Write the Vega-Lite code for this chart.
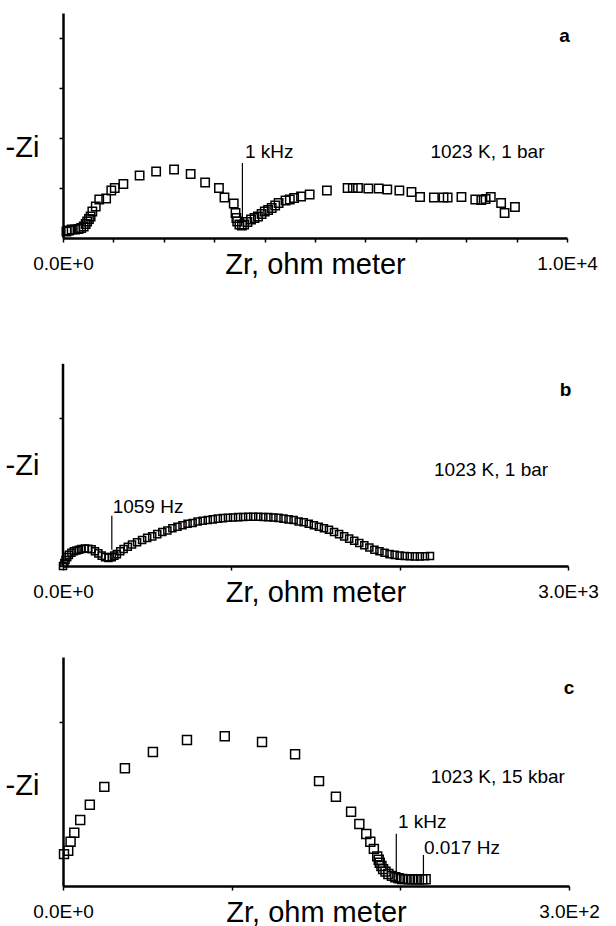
{
  "$schema": "https://vega.github.io/schema/vega-lite/v6.json",
  "padding": {"left": 5, "top": 13, "right": 0, "bottom": 0},
  "background": "white",
  "config": {
    "font": "Liberation Sans",
    "view": {"stroke": null},
    "axis": {
      "grid": false, "domainColor": "black", "domainWidth": 2.5, "tickColor": "black", "tickWidth": 1.5,
      "tickSize": 4, "labelColor": "black", "titleColor": "black", "labelFont": "Liberation Sans",
      "titleFont": "Liberation Sans", "titleFontWeight": "normal", "labelFontSize": 19, "titleFontSize": 29
    },
    "axisX": {"labelPadding": 12, "labelFlush": false, "labelOverlap": false, "titleY": 26, "titleBaseline": "middle"},
    "axisY": {"labels": false, "titleAngle": 0, "titleX": -41, "titleAlign": "center", "titleBaseline": "middle"},
    "point": {"shape": "square", "filled": false, "color": "black", "strokeWidth": 1.5, "opacity": 1},
    "text": {"fontSize": 19, "align": "left", "baseline": "middle", "color": "black"},
    "rule": {"color": "black", "strokeWidth": 1.2}
  },
  "bounds": "flush",
  "spacing": 91,
  "vconcat": [
    {
      "width": 504, "height": 225,
      "layer": [
        {
          "data": {"values": [
            {"x": 68, "y": 0.13}, {"x": 120, "y": 0.15}, {"x": 171, "y": 0.17}, {"x": 240, "y": 0.17}, {"x": 308, "y": 0.18},
            {"x": 360, "y": 0.2}, {"x": 411, "y": 0.23}, {"x": 450, "y": 0.28}, {"x": 479, "y": 0.33}, {"x": 515, "y": 0.38},
            {"x": 548, "y": 0.43}, {"x": 582, "y": 0.53}, {"x": 650, "y": 0.63}, {"x": 719, "y": 0.77}, {"x": 856, "y": 0.79},
            {"x": 958, "y": 0.95}, {"x": 1027, "y": 1.0}, {"x": 1198, "y": 1.08}, {"x": 1520, "y": 1.25}, {"x": 1848, "y": 1.33},
            {"x": 2204, "y": 1.37}, {"x": 2533, "y": 1.28}, {"x": 2820, "y": 1.11}, {"x": 3094, "y": 1.0}, {"x": 3204, "y": 0.81},
            {"x": 3388, "y": 0.69}, {"x": 3423, "y": 0.5}, {"x": 3440, "y": 0.4}, {"x": 3457, "y": 0.33}, {"x": 3500, "y": 0.27},
            {"x": 3550, "y": 0.25}, {"x": 3594, "y": 0.27}, {"x": 3660, "y": 0.32}, {"x": 3731, "y": 0.37}, {"x": 3800, "y": 0.4},
            {"x": 3868, "y": 0.43}, {"x": 3940, "y": 0.48}, {"x": 4004, "y": 0.53}, {"x": 4070, "y": 0.56}, {"x": 4141, "y": 0.6},
            {"x": 4210, "y": 0.65}, {"x": 4278, "y": 0.7}, {"x": 4415, "y": 0.75}, {"x": 4500, "y": 0.77}, {"x": 4586, "y": 0.8},
            {"x": 4723, "y": 0.83}, {"x": 4894, "y": 0.87}, {"x": 5236, "y": 0.95}, {"x": 5647, "y": 1.0}, {"x": 5750, "y": 1.0},
            {"x": 5853, "y": 1.0}, {"x": 6058, "y": 0.99}, {"x": 6263, "y": 0.99}, {"x": 6434, "y": 0.97}, {"x": 6674, "y": 0.95},
            {"x": 6914, "y": 0.92}, {"x": 7085, "y": 0.82}, {"x": 7359, "y": 0.81}, {"x": 7550, "y": 0.81}, {"x": 7632, "y": 0.81},
            {"x": 7906, "y": 0.82}, {"x": 8180, "y": 0.77}, {"x": 8300, "y": 0.76}, {"x": 8385, "y": 0.78}, {"x": 8488, "y": 0.82},
            {"x": 8693, "y": 0.7}, {"x": 8762, "y": 0.5}, {"x": 8967, "y": 0.62}
          ]},
          "mark": {"type": "point", "size": 70},
          "encoding": {
            "x": {"field": "x", "type": "quantitative", "scale": {"domain": [0, 10000]},
              "axis": {"title": "Zr, ohm meter", "values": [0, 1000, 2000, 3000, 4000, 5000, 6000, 7000, 8000, 9000, 10000],
                "labelExpr": "datum.value == 0 ? '0.0E+0' : datum.value == 10000 ? '1.0E+4' : ''"}},
            "y": {"field": "y", "type": "quantitative", "scale": {"domain": [0, 4.5]},
              "axis": {"title": "-Zi", "values": [1, 2, 3, 4], "titleY": 134}}
          }
        },
        {
          "data": {"values": [{"x": 3560, "y": 0.3, "y2": 1.5}]},
          "mark": "rule",
          "encoding": {"x": {"field": "x", "type": "quantitative"}, "y": {"field": "y", "type": "quantitative"}, "y2": {"field": "y2"}}
        },
        {
          "data": {"values": [{"x": 3610, "y": 1.73, "t": "1 kHz"}, {"x": 7290, "y": 1.73, "t": "1023 K,  1 bar"}]},
          "mark": "text",
          "encoding": {"x": {"field": "x", "type": "quantitative"}, "y": {"field": "y", "type": "quantitative"}, "text": {"field": "t"}}
        },
        {
          "data": {"values": [{"x": 9950, "y": 4.05, "t": "a"}]},
          "mark": {"type": "text", "align": "center", "fontWeight": "bold"},
          "encoding": {"x": {"field": "x", "type": "quantitative"}, "y": {"field": "y", "type": "quantitative"}, "text": {"field": "t"}}
        }
      ]
    },
    {
      "width": 505, "height": 237,
      "layer": [
        {
          "data": {"values": [
            {"x": 0, "y": 0}, {"x": 8, "y": 0.02}, {"x": 15, "y": 0.04}, {"x": 25, "y": 0.06}, {"x": 35, "y": 0.075}, {"x": 50, "y": 0.09},
            {"x": 65, "y": 0.1}, {"x": 80, "y": 0.105}, {"x": 95, "y": 0.11}, {"x": 110, "y": 0.115}, {"x": 130, "y": 0.118}, {"x": 150, "y": 0.117},
            {"x": 170, "y": 0.113}, {"x": 190, "y": 0.1}, {"x": 210, "y": 0.085}, {"x": 230, "y": 0.07}, {"x": 250, "y": 0.06}, {"x": 270, "y": 0.055},
            {"x": 290, "y": 0.06}, {"x": 305, "y": 0.07}, {"x": 320, "y": 0.08}, {"x": 340, "y": 0.1}, {"x": 360, "y": 0.115}, {"x": 385, "y": 0.13},
            {"x": 410, "y": 0.145}, {"x": 440, "y": 0.16}, {"x": 470, "y": 0.175}, {"x": 500, "y": 0.19}, {"x": 530, "y": 0.2}, {"x": 560, "y": 0.215},
            {"x": 590, "y": 0.23}, {"x": 620, "y": 0.24}, {"x": 650, "y": 0.255}, {"x": 680, "y": 0.265}, {"x": 710, "y": 0.275}, {"x": 740, "y": 0.285},
            {"x": 770, "y": 0.29}, {"x": 800, "y": 0.3}, {"x": 830, "y": 0.305}, {"x": 860, "y": 0.31}, {"x": 890, "y": 0.315}, {"x": 920, "y": 0.32},
            {"x": 950, "y": 0.323}, {"x": 980, "y": 0.326}, {"x": 1010, "y": 0.328}, {"x": 1040, "y": 0.33}, {"x": 1070, "y": 0.331}, {"x": 1100, "y": 0.332},
            {"x": 1130, "y": 0.332}, {"x": 1160, "y": 0.332}, {"x": 1190, "y": 0.331}, {"x": 1220, "y": 0.33}, {"x": 1250, "y": 0.328}, {"x": 1280, "y": 0.325},
            {"x": 1310, "y": 0.32}, {"x": 1340, "y": 0.315}, {"x": 1370, "y": 0.31}, {"x": 1400, "y": 0.3}, {"x": 1430, "y": 0.295}, {"x": 1460, "y": 0.285},
            {"x": 1490, "y": 0.275}, {"x": 1520, "y": 0.265}, {"x": 1550, "y": 0.255}, {"x": 1580, "y": 0.245}, {"x": 1610, "y": 0.23}, {"x": 1640, "y": 0.215},
            {"x": 1670, "y": 0.2}, {"x": 1700, "y": 0.185}, {"x": 1730, "y": 0.17}, {"x": 1760, "y": 0.155}, {"x": 1790, "y": 0.14}, {"x": 1820, "y": 0.125},
            {"x": 1850, "y": 0.11}, {"x": 1880, "y": 0.1}, {"x": 1910, "y": 0.09}, {"x": 1940, "y": 0.08}, {"x": 1970, "y": 0.075}, {"x": 2000, "y": 0.07},
            {"x": 2030, "y": 0.068}, {"x": 2060, "y": 0.066}, {"x": 2090, "y": 0.065}, {"x": 2120, "y": 0.065}, {"x": 2150, "y": 0.066}, {"x": 2180, "y": 0.067}
          ]},
          "mark": {"type": "point", "size": 50},
          "encoding": {
            "x": {"field": "x", "type": "quantitative", "scale": {"domain": [0, 3000]},
              "axis": {"title": "Zr, ohm meter", "values": [0, 1000, 2000, 3000],
                "labelExpr": "datum.value == 0 ? '0.0E+0' : datum.value == 3000 ? '3.0E+3' : ''"}},
            "y": {"field": "y", "type": "quantitative", "scale": {"domain": [0, 1.419]},
              "axis": {"title": "-Zi", "values": [1], "titleY": 136, "domain": false}}
          }
        },
        {
          "data": {"values": [{"x": 0, "y": 0, "y2": 1.365}]},
          "mark": {"type": "rule", "strokeWidth": 2.5},
          "encoding": {"x": {"field": "x", "type": "quantitative"}, "y": {"field": "y", "type": "quantitative"}, "y2": {"field": "y2"}}
        },
        {
          "data": {"values": [{"x": 290, "y": 0.11, "y2": 0.34}]},
          "mark": "rule",
          "encoding": {"x": {"field": "x", "type": "quantitative"}, "y": {"field": "y", "type": "quantitative"}, "y2": {"field": "y2"}}
        },
        {
          "data": {"values": [{"x": 295, "y": 0.4, "t": "1059 Hz"}, {"x": 2204, "y": 0.65, "t": "1023 K,  1 bar"}]},
          "mark": "text",
          "encoding": {"x": {"field": "x", "type": "quantitative"}, "y": {"field": "y", "type": "quantitative"}, "text": {"field": "t"}}
        },
        {
          "data": {"values": [{"x": 2985, "y": 1.19, "t": "b"}]},
          "mark": {"type": "text", "align": "center", "fontWeight": "bold"},
          "encoding": {"x": {"field": "x", "type": "quantitative"}, "y": {"field": "y", "type": "quantitative"}, "text": {"field": "t"}}
        }
      ]
    },
    {
      "width": 506, "height": 229,
      "layer": [
        {
          "data": {"values": [
            {"x": 0.6, "y": 0.195}, {"x": 3.1, "y": 0.215}, {"x": 4.5, "y": 0.27}, {"x": 6.7, "y": 0.325}, {"x": 10.2, "y": 0.404},
            {"x": 15.9, "y": 0.497}, {"x": 24.5, "y": 0.606}, {"x": 36.7, "y": 0.72}, {"x": 53.3, "y": 0.819}, {"x": 73.5, "y": 0.892},
            {"x": 95.9, "y": 0.915}, {"x": 118, "y": 0.88}, {"x": 137.6, "y": 0.805}, {"x": 151.8, "y": 0.641}, {"x": 161.8, "y": 0.546},
            {"x": 170.8, "y": 0.454}, {"x": 175.7, "y": 0.379}, {"x": 179.8, "y": 0.318}, {"x": 182.2, "y": 0.27}, {"x": 184.3, "y": 0.227},
            {"x": 186.3, "y": 0.181}, {"x": 187.2, "y": 0.16}, {"x": 187.8, "y": 0.142}, {"x": 188.8, "y": 0.122}, {"x": 189.8, "y": 0.103},
            {"x": 191.2, "y": 0.088}, {"x": 192.9, "y": 0.073}, {"x": 195, "y": 0.062}, {"x": 197, "y": 0.053}, {"x": 199, "y": 0.047},
            {"x": 201, "y": 0.043}, {"x": 203, "y": 0.042}, {"x": 205, "y": 0.041}, {"x": 207, "y": 0.041}, {"x": 209, "y": 0.041},
            {"x": 211, "y": 0.041}, {"x": 213, "y": 0.041}, {"x": 215, "y": 0.041}
          ]},
          "mark": {"type": "point", "size": 80},
          "encoding": {
            "x": {"field": "x", "type": "quantitative", "scale": {"domain": [0, 300]},
              "axis": {"title": "Zr, ohm meter", "values": [0, 100, 200, 300],
                "labelExpr": "datum.value == 0 ? '0.0E+0' : datum.value == 300 ? '3.0E+2' : ''"}},
            "y": {"field": "y", "type": "quantitative", "scale": {"domain": [0, 1.355]},
              "axis": {"title": "-Zi", "values": [1], "titleY": 128}}
          }
        },
        {
          "data": {"values": [{"x": 197.6, "y": 0.053, "y2": 0.32}, {"x": 213.7, "y": 0.04, "y2": 0.19}]},
          "mark": "rule",
          "encoding": {"x": {"field": "x", "type": "quantitative"}, "y": {"field": "y", "type": "quantitative"}, "y2": {"field": "y2"}}
        },
        {
          "data": {"values": [{"x": 198.6, "y": 0.394, "t": "1 kHz"}, {"x": 214, "y": 0.23, "t": "0.017 Hz"}, {"x": 218, "y": 0.665, "t": "1023 K,  15 kbar"}]},
          "mark": "text",
          "encoding": {"x": {"field": "x", "type": "quantitative"}, "y": {"field": "y", "type": "quantitative"}, "text": {"field": "t"}}
        },
        {
          "data": {"values": [{"x": 300, "y": 1.21, "t": "c"}]},
          "mark": {"type": "text", "align": "center", "fontWeight": "bold"},
          "encoding": {"x": {"field": "x", "type": "quantitative"}, "y": {"field": "y", "type": "quantitative"}, "text": {"field": "t"}}
        }
      ]
    }
  ]
}
